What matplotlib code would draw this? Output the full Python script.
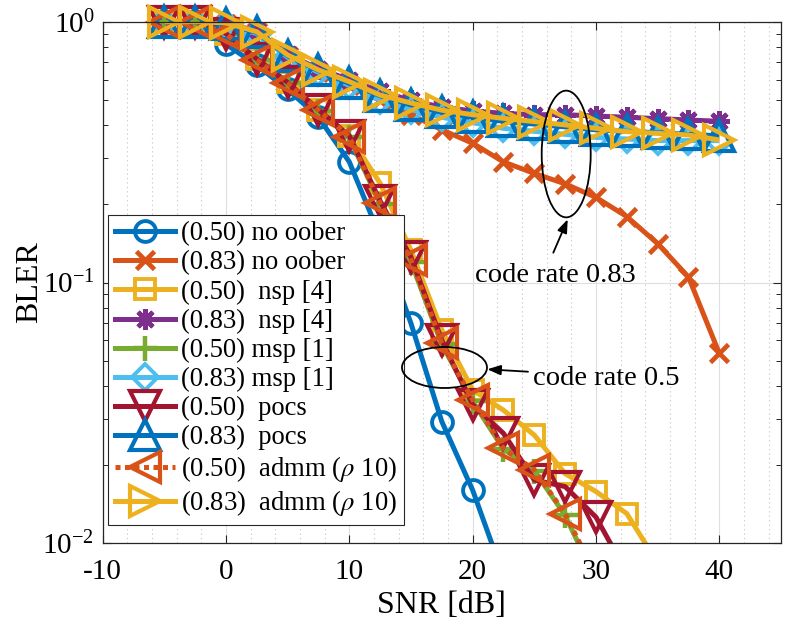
import matplotlib
matplotlib.use('Agg')
import matplotlib.pyplot as plt
from matplotlib.lines import Line2D
from matplotlib.patches import Ellipse
from matplotlib.ticker import MultipleLocator, FixedLocator

plt.rcParams['font.family'] = ['Liberation Serif', 'DejaVu Serif']
plt.rcParams['mathtext.fontset'] = 'stix'
plt.rcParams['axes.unicode_minus'] = False

# ---------------- data ----------------
snr_83 = [-5, -2.5, 0, 2.5, 5, 7.5, 10, 12.5, 15, 17.5, 20, 22.5, 25, 27.5, 30, 32.5, 35, 37.5, 40]

snr_noober_50 = [-5, -2.5, 0, 2.5, 5, 7.5, 10, 12.5, 15, 17.5, 20, 22.5]
bler_noober_50 = [1.0, 0.98, 0.82, 0.68, 0.55, 0.43, 0.29, 0.15, 0.0697, 0.0293, 0.016, 0.0075]

bler_noober_83 = [1.0, 1.0, 0.98, 0.91, 0.74, 0.64, 0.57, 0.50, 0.44, 0.385, 0.342, 0.29, 0.262,
                  0.239, 0.212, 0.179, 0.141, 0.105, 0.0535]

snr_nsp_50 = [-5, -2.5, 0, 2.5, 5, 7.5, 10, 12.5, 15, 17.5, 20, 22.5, 25, 27.5, 30, 32.5, 35]
bler_nsp_50 = [1.0, 1.0, 0.9, 0.72, 0.585, 0.46, 0.365, 0.24, 0.133, 0.0657, 0.0387, 0.0324,
               0.026, 0.0185, 0.0158, 0.013, 0.0084]

bler_nsp_83 = [1.0, 1.0, 0.99, 0.92, 0.75, 0.66, 0.60, 0.54, 0.50, 0.47, 0.455, 0.445, 0.44,
               0.44, 0.435, 0.43, 0.425, 0.42, 0.415]

snr_msp_50 = [-5, -2.5, 0, 2.5, 5, 7.5, 10, 12.5, 15, 17.5, 20, 22.5, 25, 27.5, 30]
bler_msp_50 = [1.0, 1.0, 0.9, 0.71, 0.58, 0.455, 0.36, 0.2, 0.12, 0.058, 0.035, 0.023, 0.019,
               0.0128, 0.0072]

bler_msp_83 = [1.0, 1.0, 0.98, 0.90, 0.73, 0.64, 0.57, 0.50, 0.46, 0.43, 0.41, 0.39, 0.38,
               0.37, 0.36, 0.355, 0.35, 0.35, 0.35]

snr_pocs_50 = [-5, -2.5, 0, 2.5, 5, 7.5, 10, 12.5, 15, 17.5, 20, 22.5, 25, 27.5, 30, 32.5]
bler_pocs_50 = [1.0, 1.0, 0.9, 0.72, 0.585, 0.46, 0.365, 0.205, 0.125, 0.06, 0.034, 0.0264,
                0.0175, 0.0165, 0.0126, 0.0077]

bler_pocs_83 = [1.0, 1.0, 0.98, 0.91, 0.74, 0.65, 0.58, 0.52, 0.48, 0.45, 0.43, 0.415, 0.405,
                0.395, 0.385, 0.38, 0.375, 0.37, 0.365]

snr_admm_50 = [-5, -2.5, 0, 2.5, 5, 7.5, 10, 12.5, 15, 17.5, 20, 22.5, 25, 27.5, 30]
bler_admm_50 = [1.0, 1.0, 0.9, 0.713, 0.582, 0.458, 0.362, 0.201, 0.122, 0.0585, 0.0355, 0.0231,
                0.0191, 0.013, 0.0075]

bler_admm_83 = [1.0, 1.0, 0.99, 0.915, 0.745, 0.653, 0.589, 0.523, 0.488, 0.458, 0.44, 0.426,
                0.414, 0.402, 0.39, 0.379, 0.373, 0.368, 0.352]

labels = ['(0.50) no oober', '(0.83) no oober', '(0.50)  nsp [4]', '(0.83)  nsp [4]',
          '(0.50) msp [1]', '(0.83) msp [1]', '(0.50)  pocs', '(0.83)  pocs',
          r'(0.50)  admm ($\rho$ 10)', r'(0.83)  admm ($\rho$ 10)']

xticks = [-10, 0, 10, 20, 30, 40]

# ---------------- styles ----------------
C_BLUE = '#0072BD'
C_ORANGE = '#D95319'
C_YELLOW = '#EDB120'
C_PURPLE = '#7E2F8E'
C_GREEN = '#77AC30'
C_LBLUE = '#4DBEEE'
C_DRED = '#A2142F'

series = [
    (snr_noober_50, bler_noober_50, C_BLUE, 'o', 15, 2.8, '-'),
    (snr_83, bler_noober_83, C_ORANGE, 'x', 13, 3.4, '-'),
    (snr_nsp_50, bler_nsp_50, C_YELLOW, 's', 14, 2.8, '-'),
    (snr_83, bler_nsp_83, C_PURPLE, (8, 2, 0), 15, 3.2, '-'),
    (snr_msp_50, bler_msp_50, C_GREEN, '+', 18, 3.2, '-'),
    (snr_83, bler_msp_83, C_LBLUE, 'D', 13, 2.8, '-'),
    (snr_pocs_50, bler_pocs_50, C_DRED, 'v', 21, 3.0, '-'),
    (snr_83, bler_pocs_83, C_BLUE, '^', 21, 3.0, '-'),
    (snr_admm_50, bler_admm_50, C_ORANGE, '<', 21, 3.0, (0, (1, 0.9))),
    (snr_83, bler_admm_83, C_YELLOW, '>', 21, 3.0, '-'),
]

LW = 3.6

fig = plt.figure(figsize=(7.91, 6.29), dpi=100)
ax = fig.add_axes([0.1298, 0.1362, 0.8575, 0.8293])
ax.set_yscale('log')

handles = []
for i, (xs, ys, c, m, ms, mew, ls) in enumerate(series):
    z = 2 + i * 0.01
    ax.plot(xs, ys, color=c, ls=ls, lw=LW, zorder=z, dash_capstyle='butt',
            solid_capstyle='butt')
    xin = [x for x, y in zip(xs, ys) if 0.01 <= y <= 1.0]
    yin = [y for y in ys if 0.01 <= y <= 1.0]
    ax.plot(xin, yin, ls='none', marker=m, ms=ms, mew=mew, mfc='none', mec=c,
            clip_on=False, zorder=z + 0.005)
    handles.append(Line2D([], [], color=c, ls=ls, lw=LW, marker=m, ms=ms, mew=mew,
                          mfc='none', mec=c, dash_capstyle='butt'))

ax.set_xlim(-10, 45)
ax.set_ylim(1e-2, 1)
ax.xaxis.set_major_locator(FixedLocator(xticks))
ax.set_xticklabels([str(t) for t in xticks])
ax.xaxis.set_minor_locator(MultipleLocator(2))

ax.tick_params(which='both', direction='in', top=True, right=True, colors='#262626')
ax.tick_params(which='major', length=6, width=0.8, labelsize=21)
ax.tick_params(axis='x', which='major', pad=11)
ax.tick_params(axis='y', which='major', pad=6)
ax.tick_params(axis='x', which='minor', length=0)
ax.tick_params(axis='y', which='minor', length=3.5, width=0.7)
for lab in ax.get_xticklabels() + ax.get_yticklabels():
    lab.set_color('black')

ax.grid(True, which='major', color='#dedede', lw=0.8, ls='-')
ax.xaxis.grid(True, which='minor', color='#c4c4c4', lw=0.8, ls=(0, (1, 3)))
ax.yaxis.grid(False, which='minor')
ax.set_axisbelow(True)

for sp in ax.spines.values():
    sp.set_color('#262626')
    sp.set_linewidth(0.9)

ax.set_xlabel('SNR [dB]', fontsize=23)
ax.xaxis.set_label_coords(0.5, -0.12)
ax.xaxis.label.set_va('center')
ax.set_ylabel('BLER', fontsize=23)
ax.yaxis.set_label_coords(-0.108, 0.5)
ax.yaxis.label.set_va('center')
ax.yaxis.label.set_ha('center')

leg = ax.legend(handles, labels, loc='lower left', bbox_to_anchor=(0.0078, 0.035),
                fontsize=19.2, handlelength=2.25, handletextpad=0.25, labelspacing=0.15,
                borderpad=0.25, borderaxespad=0, frameon=True, fancybox=False,
                edgecolor='#262626', framealpha=1, facecolor='white')
leg.get_frame().set_linewidth(0.8)
leg.set_zorder(10)

W, H = 791.0, 629.0
def ff(x, y):
    return (x / W, 1 - y / H)

e1 = Ellipse(ff(566.2, 154), 49 / W, 126.7 / H, transform=fig.transFigure, fill=False,
             ec='black', lw=1.3, zorder=11, clip_on=False)
e2 = Ellipse(ff(444.5, 367.5), 85 / W, 41 / H, transform=fig.transFigure, fill=False,
             ec='black', lw=1.3, zorder=11, clip_on=False)
fig.add_artist(e1)
fig.add_artist(e2)

ap = dict(arrowstyle='-|>,head_length=0.8,head_width=0.3', color='black', lw=1.3,
          shrinkA=0, shrinkB=0)
fig.add_artist(matplotlib.text.Annotation('', xy=ff(567.7, 219.3), xycoords='figure fraction',
                                          xytext=ff(553.3, 252.7), textcoords='figure fraction',
                                          arrowprops=ap))
fig.add_artist(matplotlib.text.Annotation('', xy=ff(487.3, 369.3), xycoords='figure fraction',
                                          xytext=ff(528, 371.7), textcoords='figure fraction',
                                          arrowprops=ap))
fig.text(*ff(475, 281.7), 'code rate 0.83', fontsize=20.5, ha='left', va='baseline')
fig.text(*ff(533, 385), 'code rate 0.5', fontsize=20.5, ha='left', va='baseline')

fig.savefig('out.png', dpi=100)
